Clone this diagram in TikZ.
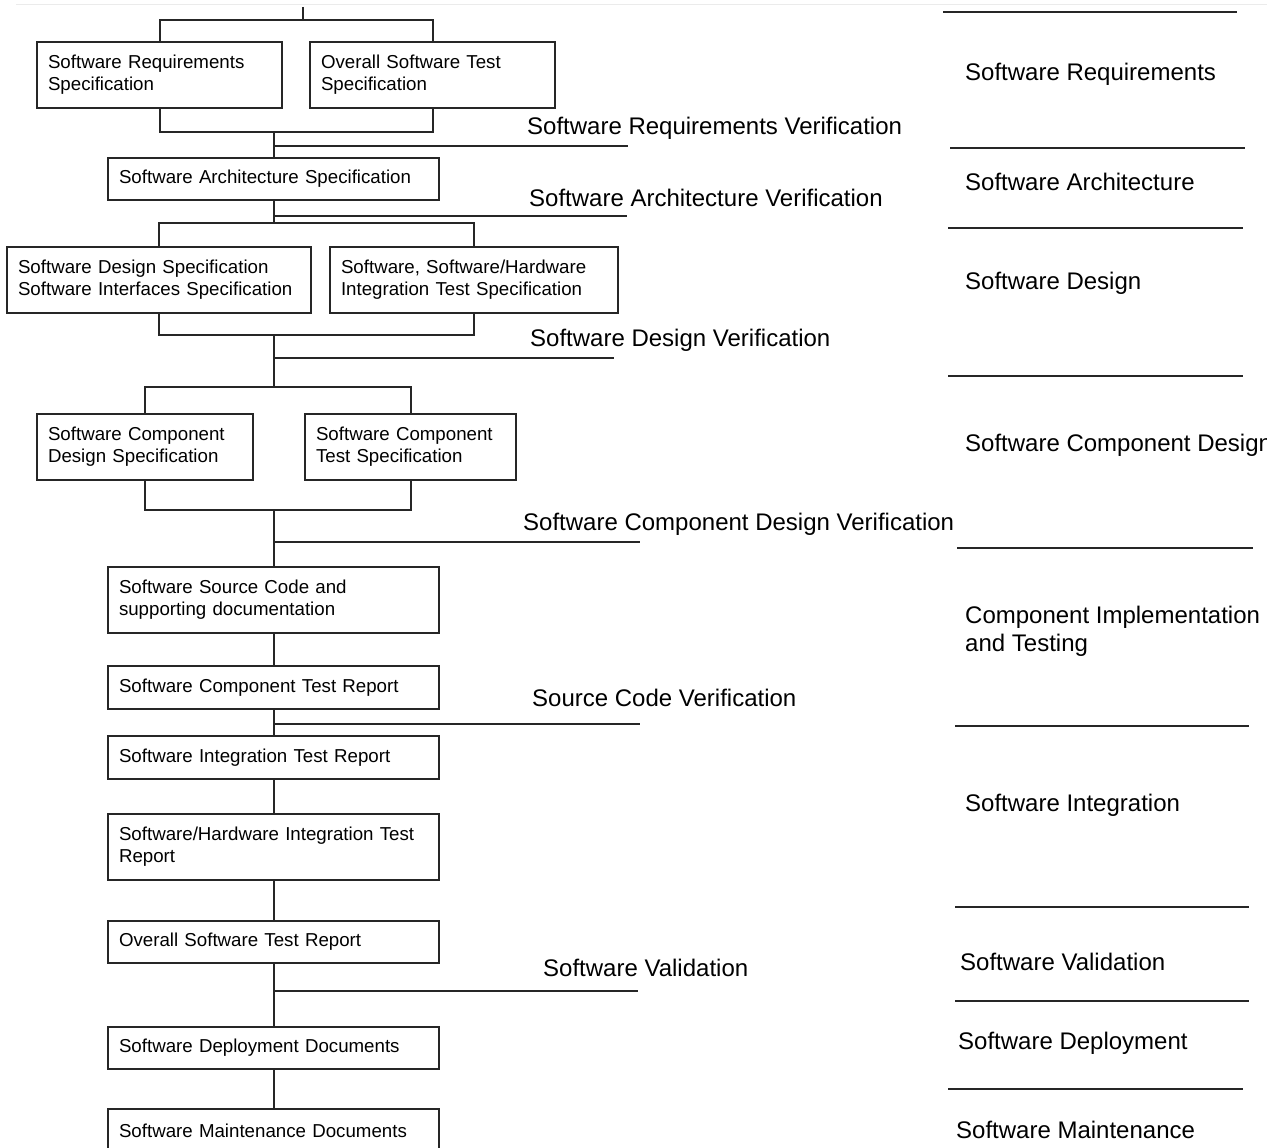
\documentclass[tikz,border=0pt]{standalone}
\usepackage{fontspec}
\setmainfont{Liberation Sans}
\newfontfamily\docfont[WordSpace=2.2]{Liberation Sans}
\newfontfamily\phasefont{Liberation Sans}
\begin{document}
\begin{tikzpicture}[x=1pt,y=-1pt,
  doc/.style={draw=black!85, line width=2pt, rectangle, inner xsep=11pt, inner ysep=0pt,
    align=left, font={\docfont\fontsize{18.7}{22}\selectfont}},
  conn/.style={draw=black!85, line width=2pt},
  verif/.style={anchor=west, inner sep=0pt, font={\phasefont\fontsize{24}{28}\selectfont}},
  phase/.style={anchor=west, inner sep=0pt, align=left, font={\phasefont\fontsize{24}{28}\selectfont}},
  rule/.style={draw=black!85, line width=2.4pt}]
\useasboundingbox (0,0) rectangle (1267,1148);
\draw[black!8, line width=1pt] (16,5) -- (1267,5);

% ---- document boxes ----
\node[doc, text width=223, minimum height=66] (srs) at (159.5,75) {Software Requirements\\Specification};
\node[doc, text width=223, minimum height=66] (ovr) at (432.5,75) {Overall Software Test\\Specification};
\node[doc, text width=309, minimum height=42] (arch) at (273.5,179) {Software Architecture Specification};
\node[doc, text width=282, minimum height=66] (sds) at (159,280) {Software Design Specification\\Software Interfaces Specification};
\node[doc, text width=266, minimum height=66] (swhw) at (474,280) {Software, Software/Hardware\\Integration Test Specification};
\node[doc, text width=194, minimum height=66] (scds) at (145,447) {Software Component\\Design Specification};
\node[doc, text width=189, minimum height=66] (scts) at (410.5,447) {Software Component\\Test Specification};
\node[doc, text width=309, minimum height=66] (ssc) at (273.5,600) {Software Source Code and\\supporting documentation};
\node[doc, text width=309, minimum height=43] (sctr) at (273.5,687.5) {Software Component Test Report};
\node[doc, text width=309, minimum height=43] (sitr) at (273.5,757.5) {Software Integration Test Report};
\node[doc, text width=309, minimum height=66] (shitr) at (273.5,847) {Software/Hardware Integration Test\\Report};
\node[doc, text width=309, minimum height=42] (ostr) at (273.5,942) {Overall Software Test Report};
\node[doc, text width=309, minimum height=42] (sdd) at (273.5,1048) {Software Deployment Documents};
\node[doc, text width=309, minimum height=43] (smd) at (273.5,1130.5) {Software Maintenance Documents};

% ---- junction points ----
\coordinate (top) at (303,7);
\coordinate (j1) at (303,20);
\coordinate (b1) at (273.5,132);
\coordinate (j2) at (273.5,223);
\coordinate (b2) at (273.5,335);
\coordinate (j3) at (273.5,387);
\coordinate (b3) at (273.5,510);

% ---- tree connectors ----
\draw[conn] (top) -- (j1);
\draw[conn] (srs.north) -- (srs.north |- j1) -- (ovr.north |- j1) -- (ovr.north);
\draw[conn] (srs.south) -- (srs.south |- b1) -- (ovr.south |- b1) -- (ovr.south);
\draw[conn] (b1) -- (arch.north);
\draw[conn] (arch.south) -- (j2);
\draw[conn] (sds.north) -- (sds.north |- j2) -- (swhw.north |- j2) -- (swhw.north);
\draw[conn] (sds.south) -- (sds.south |- b2) -- (swhw.south |- b2) -- (swhw.south);
\draw[conn] (b2) -- (j3);
\draw[conn] (scds.north) -- (scds.north |- j3) -- (scts.north |- j3) -- (scts.north);
\draw[conn] (scds.south) -- (scds.south |- b3) -- (scts.south |- b3) -- (scts.south);
\draw[conn] (b3) -- (ssc.north);
\draw[conn] (ssc.south) -- (sctr.north);
\draw[conn] (sctr.south) -- (sitr.north);
\draw[conn] (sitr.south) -- (shitr.north);
\draw[conn] (shitr.south) -- (ostr.north);
\draw[conn] (ostr.south) -- (sdd.north);
\draw[conn] (sdd.south) -- (smd.north);

% ---- verification branches ----
\coordinate (v1) at (628,146);
\coordinate (v2) at (627,216);
\coordinate (v3) at (614,358);
\coordinate (v4) at (640,542);
\coordinate (v5) at (640,724);
\coordinate (v6) at (638,991);
\draw[conn] (b1 |- v1) -- (v1);
\draw[conn] (b1 |- v2) -- (v2);
\draw[conn] (b1 |- v3) -- (v3);
\draw[conn] (b1 |- v4) -- (v4);
\draw[conn] (b1 |- v5) -- (v5);
\draw[conn] (b1 |- v6) -- (v6);

\node[verif] (l1) at (527,128) {Software Requirements Verification};
\node[verif] (l2) at (529,198) {Software Architecture Verification};
\node[verif] (l3) at (530,340) {Software Design Verification};
\node[verif] (l4) at (523,524) {Software Component Design Verification};
\node[verif] (l5) at (532,698) {Source Code Verification};
\node[verif] (l6) at (543,968) {Software Validation};

% ---- phase column ----
\draw[rule] (943,12) -- (1237,12);
\draw[rule] (950,148) -- (1245,148);
\draw[rule] (948,228) -- (1243,228);
\draw[rule] (948,376) -- (1243,376);
\draw[rule] (957,548) -- (1253,548);
\draw[rule] (955,726) -- (1249,726);
\draw[rule] (955,907) -- (1249,907);
\draw[rule] (955,1001) -- (1249,1001);
\draw[rule] (948,1089) -- (1243,1089);

\node[phase] (p1) at (965,74) {Software Requirements};
\node[phase] (p2) at (965,182) {Software Architecture};
\node[phase] (p3) at (965,283) {Software Design};
\node[phase] (p4) at (965,445) {Software Component Design};
\node[phase] (p5) at (965,631) {Component Implementation\\and Testing};
\node[phase] (p6) at (965,805) {Software Integration};
\node[phase] (p7) at (960,962) {Software Validation};
\node[phase] (p8) at (958,1043) {Software Deployment};
\node[phase] (p9) at (956,1130) {Software Maintenance};
\end{tikzpicture}
\end{document}
